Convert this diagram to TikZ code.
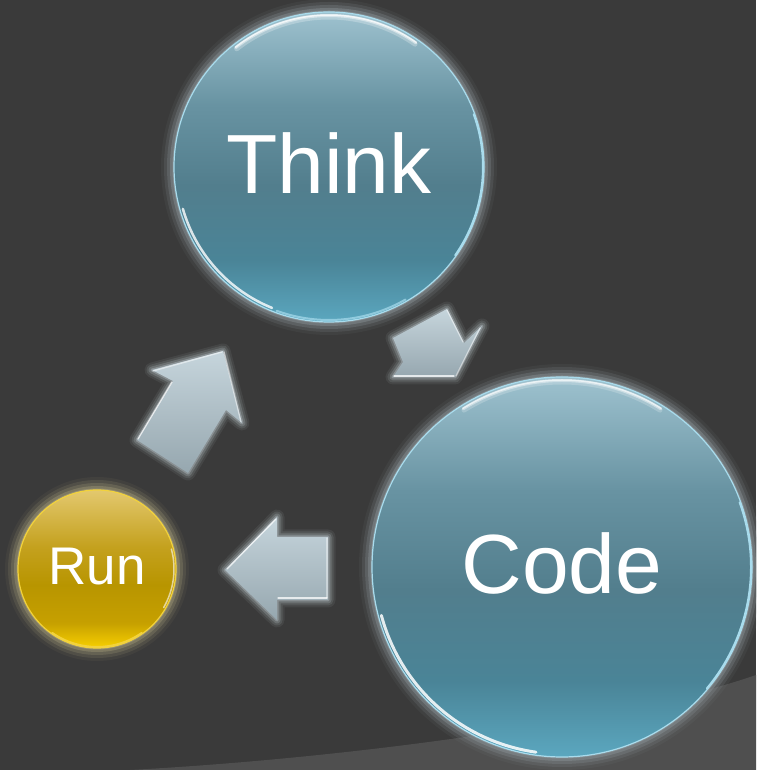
\documentclass[tikz,border=0pt]{standalone}
\usepackage{fontspec}
\setmainfont{Liberation Sans}
\usetikzlibrary{calc}

\definecolor{bg}{HTML}{3A3A3A}
\definecolor{band}{HTML}{4F4F4F}
\definecolor{tealA}{HTML}{9EC2CF}
\definecolor{tealB}{HTML}{6893A2}
\definecolor{tealC}{HTML}{527E8D}
\definecolor{tealD}{HTML}{4A8497}
\definecolor{tealE}{HTML}{5BA7BF}
\definecolor{goldA}{HTML}{E3C86E}
\definecolor{goldB}{HTML}{C4A11E}
\definecolor{goldC}{HTML}{B89500}
\definecolor{goldD}{HTML}{C6A000}
\definecolor{goldE}{HTML}{F7CF00}
\definecolor{arrowTop}{HTML}{C6D5DC}
\definecolor{arrowBot}{HTML}{96A7AF}
\definecolor{arrowHalo}{HTML}{A8B1B5}
\definecolor{haloTeal}{HTML}{8C9599}
\definecolor{haloGold}{HTML}{A29B78}
\definecolor{rimTeal}{HTML}{A9DCED}
\definecolor{rimGold}{HTML}{F2D23C}

% glassy fills, light at the top, deep in the middle, bright at the bottom
\pgfdeclareverticalshading{tealglass}{100bp}{color(0bp)=(tealE); color(25bp)=(tealE); color(35bp)=(tealD); color(47bp)=(tealC); color(60bp)=(tealB); color(75bp)=(tealA); color(100bp)=(tealA)}
\pgfdeclareverticalshading{goldglass}{100bp}{color(0bp)=(goldE); color(25bp)=(goldE); color(33bp)=(goldD); color(45bp)=(goldC); color(57bp)=(goldB); color(75bp)=(goldA); color(100bp)=(goldA)}

% soft halo around a disc: centre, radius, colour
\newcommand\halo[3]{%
  \foreach \d/\o in {13/0.08,10/0.16,7/0.26,4/0.42,1.5/0.7}{%
    \fill[#3,opacity=\o] (#1) circle[radius=#2+\d];}}

% outlines of the three block arrows
\newcommand\arrowTC{(393,432) -- (447,461) -- (464,427) -- (482,444) -- (455,393) -- (393,393) -- (403,408) -- cycle}
\newcommand\arrowCR{(225,200) -- (277,253) -- (277,233) -- (328,233) -- (328,170) -- (277,170) -- (277,150) -- cycle}
\newcommand\arrowRT{(223,419) -- (242,347) -- (226,360) -- (188,297) -- (137,330) -- (173,389) -- (152,400) -- cycle}

% block arrow with a glow and a metallic fill
\newcommand\blockarrow[1]{%
  \foreach \w/\o in {15/0.10,11/0.16,7/0.28,3/0.5}{%
    \draw[arrowHalo,line width=\w pt,line join=round,opacity=\o] #1;}
  \shade[top color=arrowTop,bottom color=arrowBot] #1;}

\tikzset{
  bubble/.style={circle, inner sep=0pt, text=white, line width=1.2pt},
  tealbubble/.style={bubble, shading=tealglass, draw=rimTeal},
  goldbubble/.style={bubble, shading=goldglass, draw=rimGold},
  shine/.style={white, line cap=round},
  bevel/.style={white, opacity=0.75, line width=1.3pt, line cap=round}
}

\begin{document}
\begin{tikzpicture}[x=1pt,y=1pt]
  % backdrop with the lighter swoosh in the lower right corner
  \fill[bg] (0,0) rectangle (756,770);
  \fill[band] (130,0) .. controls (350,12) and (620,48) .. (756,95) -- (756,0) -- cycle;
  \useasboundingbox (0,0) rectangle (756,770);

  \coordinate (thinkc) at (329,603);
  \coordinate (codec) at (562,203);
  \coordinate (runc) at (97,201);

  % connecting block arrows
  \blockarrow{\arrowTC}
  \draw[bevel] (394,394) -- (454,394);
  \draw[bevel,opacity=0.5] (456,394) -- (480,442);
  \draw[bevel,opacity=0.5] (447,460) -- (463,428);

  \blockarrow{\arrowCR}
  \draw[bevel] (227,201) -- (276,251);
  \draw[bevel] (278,172) -- (327,172);
  \draw[bevel,opacity=0.4] (327,172) -- (327,232);

  \blockarrow{\arrowRT}
  \draw[bevel] (138,331) -- (172,388);
  \draw[bevel,opacity=0.5] (153,399) -- (222,418);
  \draw[bevel,opacity=0.5] (224,418) -- (241,348);

  % halos behind the discs
  \halo{thinkc}{155}{haloTeal}
  \halo{codec}{190}{haloTeal}
  \halo{runc}{79}{haloGold}

  % the three stages
  \node[tealbubble, minimum size=310pt, text depth=8pt,
        font=\fontsize{84}{90}\selectfont] (think) at (thinkc) {Think};
  \node[tealbubble, minimum size=380pt, text depth=8pt,
        font=\fontsize{84}{90}\selectfont] (code) at (codec) {Code};
  \node[goldbubble, minimum size=158pt, text depth=6pt,
        font=\fontsize{53}{60}\selectfont] (run) at (runc) {Run};

  % glints along the rims
  \foreach \r/\w/\o in {150/5/0.25,151.5/3/0.45,152/1.5/0.7}{%
    \draw[shine, opacity=\o, line width=\w pt] ($(think.center)+(55:\r)$) arc[start angle=55, end angle=128, radius=\r];}
  \draw[shine, opacity=0.8, line width=2.5pt] ($(think.center)+(196:152)$) arc[start angle=196, end angle=248, radius=152];
  \draw[rimTeal, line cap=round, line width=2pt] ($(think.center)+(-35:154)$) arc[start angle=-35, end angle=20, radius=154];
  \draw[rimTeal, opacity=0.7, line cap=round, line width=2pt] ($(think.center)+(250:153)$) arc[start angle=250, end angle=300, radius=153];

  \foreach \r/\w/\o in {185/5/0.2,186.5/3/0.4,187/1.5/0.6}{%
    \draw[shine, opacity=\o, line width=\w pt] ($(code.center)+(58:\r)$) arc[start angle=58, end angle=122, radius=\r];}
  \draw[shine, opacity=0.85, line width=3pt] ($(code.center)+(195:187)$) arc[start angle=195, end angle=262, radius=187];
  \draw[rimTeal, line cap=round, line width=2pt] ($(code.center)+(-40:189)$) arc[start angle=-40, end angle=20, radius=189];

  \draw[shine, opacity=0.6, line width=1.5pt] ($(run.center)+(-30:77)$) arc[start angle=-30, end angle=15, radius=77];
  \draw[rimGold, line cap=round, line width=2pt] ($(run.center)+(235:78)$) arc[start angle=235, end angle=305, radius=78];
\end{tikzpicture}
\end{document}
